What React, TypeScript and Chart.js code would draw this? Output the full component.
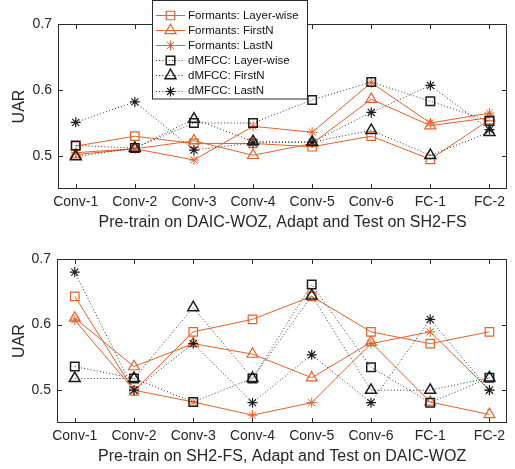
import React, { useEffect, useRef } from 'react';
import { Chart, registerables } from 'chart.js';
Chart.register(...registerables);

const categories = ['Conv-1', 'Conv-2', 'Conv-3', 'Conv-4', 'Conv-5', 'Conv-6', 'FC-1', 'FC-2'];
const yTickValues = [0.5, 0.6, 0.7];

// Top: Pre-train on DAIC-WOZ, Adapt and Test on SH2-FS
const formantsLayerTop = [0.515, 0.530, 0.519, 0.519, 0.514, 0.530, 0.495, 0.555];
const formantsFirstTop = [0.502, 0.511, 0.523, 0.501, 0.519, 0.586, 0.546, 0.558];
const formantsLastTop = [0.505, 0.511, 0.494, 0.545, 0.536, 0.611, 0.550, 0.565];
const dmfccLayerTop = [0.516, 0.512, 0.550, 0.550, 0.585, 0.612, 0.583, 0.553];
const dmfccFirstTop = [0.499, 0.512, 0.556, 0.522, 0.521, 0.539, 0.501, 0.536];
const dmfccLastTop = [0.551, 0.582, 0.509, 0.520, 0.521, 0.566, 0.607, 0.540];

// Bottom: Pre-train on SH2-FS, Adapt and Test on DAIC-WOZ
const formantsLayerBot = [0.643, 0.499, 0.589, 0.608, 0.643, 0.589, 0.571, 0.589];
const formantsFirstBot = [0.610, 0.536, 0.571, 0.555, 0.519, 0.573, 0.482, 0.463];
const formantsLastBot = [0.607, 0.500, 0.482, 0.462, 0.481, 0.571, 0.589, 0.500];
const dmfccLayerBot = [0.536, 0.518, 0.482, 0.518, 0.661, 0.535, 0.481, 0.519];
const dmfccFirstBot = [0.518, 0.518, 0.626, 0.518, 0.644, 0.500, 0.500, 0.519];
const dmfccLastBot = [0.680, 0.500, 0.571, 0.481, 0.554, 0.481, 0.608, 0.500];

const legendLabels = [
  'Formants: Layer-wise',
  'Formants: FirstN',
  'Formants: LastN',
  'dMFCC: Layer-wise',
  'dMFCC: FirstN',
  'dMFCC: LastN',
];

const ORANGE = '#E5602A';
const DARK = '#1c1c1c';
const TEXT = '#262626';
const FONT = "'Liberation Sans', Arial, Helvetica, sans-serif";

const styles = ['rect', 'triangle', 'star'];
const radii: Record<string, number> = { rect: 6, triangle: 6.3, star: 5 };

function pts(arr: number[]) {
  return arr.map((v, i) => ({ x: i + 1, y: v }));
}

function markerWidth(isF: boolean, style: string) {
  if (style === 'star') return isF ? 1 : 1.2;
  return isF ? 1.2 : 1.5;
}

function makeDatasets(series: number[][]) {
  const ds: any[] = [];
  // dMFCC first so they are drawn on top
  for (let k = 5; k >= 0; k--) {
    const isF = k < 3;
    const style = styles[k % 3];
    const col = isF ? ORANGE : DARK;
    ds.push({
      label: legendLabels[k],
      data: pts(series[k]),
      borderColor: isF ? ORANGE : '#333333',
      borderWidth: 1,
      borderDash: isF ? [] : [1, 2.2],
      tension: 0,
      fill: false,
      pointStyle: style,
      pointRadius: radii[style],
      pointBorderColor: col,
      pointBackgroundColor: 'rgba(0,0,0,0)',
      pointBorderWidth: markerWidth(isF, style),
    });
  }
  return ds;
}

function drawMarker(ctx: CanvasRenderingContext2D, style: string, x: number, y: number, color: string, lw: number) {
  ctx.save();
  ctx.setLineDash([]);
  ctx.strokeStyle = color;
  ctx.lineWidth = lw;
  ctx.beginPath();
  const r = radii[style];
  if (style === 'rect') {
    const s = Math.SQRT1_2 * r;
    ctx.rect(x - s, y - s, 2 * s, 2 * s);
  } else if (style === 'triangle') {
    const a = -Math.PI / 2;
    for (let i = 0; i < 3; i++) {
      const ang = a + (i * 2 * Math.PI) / 3;
      const px = x + Math.cos(ang) * r;
      const py = y + Math.sin(ang) * r;
      if (i === 0) ctx.moveTo(px, py);
      else ctx.lineTo(px, py);
    }
    ctx.closePath();
  } else {
    for (let i = 0; i < 4; i++) {
      const ang = (i * Math.PI) / 4;
      ctx.moveTo(x - Math.cos(ang) * r, y - Math.sin(ang) * r);
      ctx.lineTo(x + Math.cos(ang) * r, y + Math.sin(ang) * r);
    }
  }
  ctx.stroke();
  ctx.restore();
}

const framePlugin = {
  id: 'frame',
  afterDatasetsDraw(chart: any) {
    const { ctx, chartArea: a, scales } = chart;
    const xs = scales.x;
    const ys = scales.y;
    const L = Math.round(a.left) + 0.5;
    const R = Math.round(a.right) - 0.5;
    const T = Math.round(a.top) + 0.5;
    const B = Math.round(a.bottom) - 0.5;
    ctx.save();
    ctx.setLineDash([]);
    ctx.strokeStyle = '#2a2a2a';
    ctx.lineWidth = 1;
    ctx.strokeRect(L, T, R - L, B - T);
    const tl = 4.5;
    ctx.beginPath();
    for (let i = 0; i < categories.length; i++) {
      const px = Math.round(xs.getPixelForValue(i + 1)) + 0.5;
      ctx.moveTo(px, B);
      ctx.lineTo(px, B - tl);
      ctx.moveTo(px, T);
      ctx.lineTo(px, T + tl);
    }
    for (const v of yTickValues) {
      const py = Math.round(ys.getPixelForValue(v)) + 0.5;
      ctx.moveTo(L, py);
      ctx.lineTo(L + tl, py);
      ctx.moveTo(R, py);
      ctx.lineTo(R - tl, py);
    }
    ctx.stroke();
    ctx.restore();
  },
};

const legendPlugin = {
  id: 'customLegend',
  afterDraw(chart: any) {
    const { ctx } = chart;
    const bx = 152.5;
    const by = 0.5;
    const bw = 155;
    const bh = 98.5;
    ctx.save();
    ctx.fillStyle = '#ffffff';
    ctx.fillRect(bx, by, bw, bh);
    ctx.strokeStyle = '#2a2a2a';
    ctx.lineWidth = 1;
    ctx.strokeRect(bx, by, bw, bh);
    ctx.font = `11.5px ${FONT}`;
    ctx.textBaseline = 'middle';
    ctx.textAlign = 'left';
    for (let k = 0; k < 6; k++) {
      const yy = 15 + k * 15.1;
      const isF = k < 3;
      const style = styles[k % 3];
      ctx.beginPath();
      ctx.strokeStyle = isF ? ORANGE : '#333333';
      ctx.setLineDash(isF ? [] : [1, 2.2]);
      ctx.lineWidth = 1;
      ctx.moveTo(156, Math.round(yy) + 0.5);
      ctx.lineTo(185, Math.round(yy) + 0.5);
      ctx.stroke();
      ctx.setLineDash([]);
      drawMarker(ctx, style, 170.5, Math.round(yy) + 0.5, isF ? ORANGE : DARK, markerWidth(isF, style));
      ctx.fillStyle = '#111111';
      ctx.fillText(legendLabels[k], 188, yy + 0.5);
    }
    ctx.restore();
  },
};

function makeConfig(series: number[][], xTitle: string, yWidth: number, withLegend: boolean): any {
  return {
    type: 'line',
    data: { datasets: makeDatasets(series) },
    plugins: withLegend ? [framePlugin, legendPlugin] : [framePlugin],
    options: {
      responsive: false,
      animation: false,
      devicePixelRatio: 1,
      layout: { padding: { left: 0, right: 4, top: 24, bottom: 0 } },
      plugins: { legend: { display: false }, tooltip: { enabled: false }, title: { display: false } },
      scales: {
        x: {
          type: 'linear',
          min: 0.7,
          max: 8.3,
          grid: { display: false, drawTicks: false },
          border: { display: false },
          afterBuildTicks: (s: any) => {
            s.ticks = categories.map((_, i) => ({ value: i + 1 }));
          },
          afterFit: (s: any) => {
            s.height = 46;
          },
          ticks: {
            autoSkip: false,
            maxRotation: 0,
            padding: 5,
            color: TEXT,
            font: { size: 14, family: FONT },
            callback: (v: any) => categories[Math.round(v) - 1],
          },
          title: {
            display: true,
            text: xTitle,
            color: TEXT,
            font: { size: 16, family: FONT },
            padding: { top: 0, bottom: 2.5 },
          },
        },
        y: {
          min: 0.45,
          max: 0.7,
          grid: { display: false, drawTicks: false },
          border: { display: false },
          afterBuildTicks: (s: any) => {
            s.ticks = yTickValues.map((v) => ({ value: v }));
          },
          afterFit: (s: any) => {
            s.width = yWidth;
          },
          ticks: {
            padding: 6,
            color: TEXT,
            font: { size: 14, family: FONT },
            callback: (v: any) => Number(v).toFixed(1),
          },
          title: {
            display: true,
            text: 'UAR',
            color: TEXT,
            font: { size: 16, family: FONT },
            padding: { top: 10, bottom: 0 },
          },
        },
      },
    },
  };
}

function ChartCanvas({ config, height }: { config: any; height: number }) {
  const ref = useRef<HTMLCanvasElement | null>(null);
  useEffect(() => {
    if (!ref.current) return;
    const chart = new Chart(ref.current, config);
    return () => chart.destroy();
  }, [config]);
  return <canvas ref={ref} width={515} height={height} style={{ display: 'block', width: 515, height }} />;
}

const topConfig = makeConfig(
  [formantsLayerTop, formantsFirstTop, formantsLastTop, dmfccLayerTop, dmfccFirstTop, dmfccLastTop],
  'Pre-train on DAIC-WOZ, Adapt and Test on SH2-FS',
  58,
  true
);
const botConfig = makeConfig(
  [formantsLayerBot, formantsFirstBot, formantsLastBot, dmfccLayerBot, dmfccFirstBot, dmfccLastBot],
  'Pre-train on SH2-FS, Adapt and Test on DAIC-WOZ',
  57,
  false
);

export default function App() {
  return (
    <div style={{ position: 'fixed', left: 0, top: 0, width: 515, height: 469, background: '#fff', overflow: 'hidden' }}>
      <ChartCanvas config={topConfig} height={235} />
      <ChartCanvas config={botConfig} height={234} />
    </div>
  );
}
